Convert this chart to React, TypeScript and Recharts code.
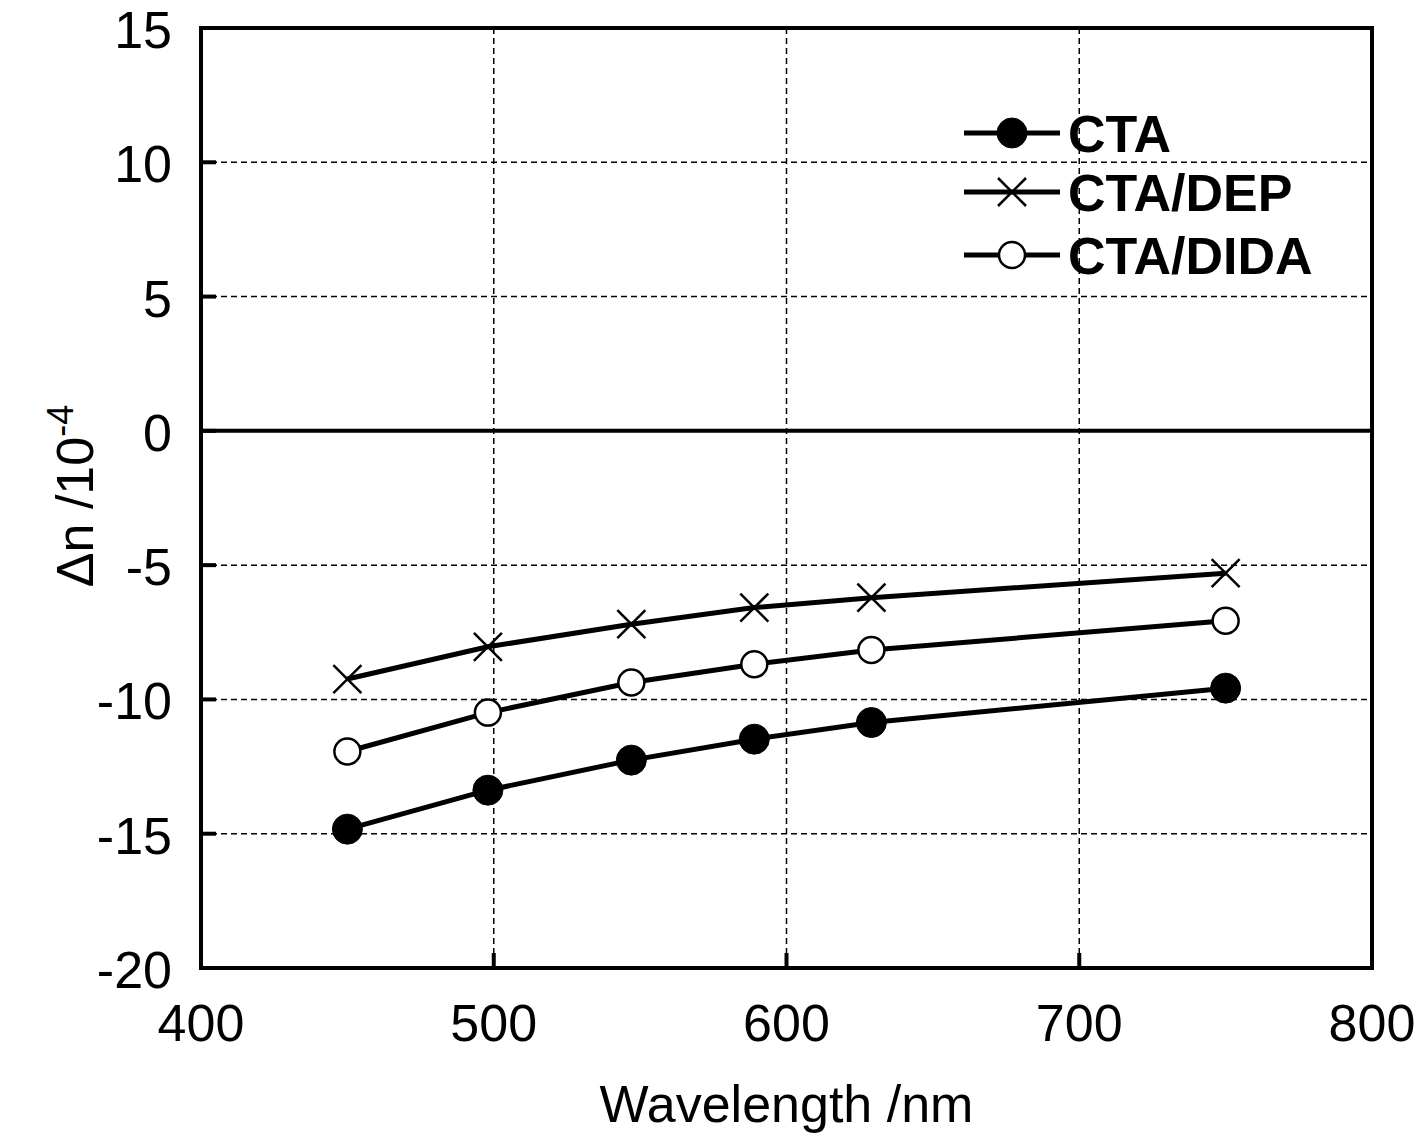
import {
  CartesianGrid,
  Line,
  LineChart,
  ReferenceArea,
  ReferenceLine,
  XAxis,
  YAxis,
} from 'recharts'

const WAVELENGTH = [450, 498, 547, 589, 629, 750]
const CTA = [-14.83, -13.38, -12.26, -11.48, -10.86, -9.58]
const CTA_DEP = [-9.24, -8.04, -7.2, -6.58, -6.21, -5.3]
const CTA_DIDA = [-11.94, -10.49, -9.37, -8.69, -8.16, -7.07]

const X_TICKS = [400, 500, 600, 700, 800]
const Y_TICKS = [-20, -15, -10, -5, 0, 5, 10, 15]

const SERIES = [
  { key: 'cta', name: 'CTA', marker: 'filled' },
  { key: 'dep', name: 'CTA/DEP', marker: 'cross' },
  { key: 'dida', name: 'CTA/DIDA', marker: 'open' },
]

const data = WAVELENGTH.map((w, i) => ({
  w,
  cta: CTA[i],
  dep: CTA_DEP[i],
  dida: CTA_DIDA[i],
}))

const FONT = '"Liberation Sans", Arial, sans-serif'
const FS = 52
const TICK_LEN = 15

function Marker({ kind, cx, cy }: { kind: string; cx: number; cy: number }) {
  if (kind === 'filled') {
    return <circle cx={cx} cy={cy} r={15} fill="#000" stroke="#000" strokeWidth={1} />
  }
  if (kind === 'open') {
    return <circle cx={cx} cy={cy} r={13} fill="#fff" stroke="#000" strokeWidth={2.5} />
  }
  const s = 14
  return (
    <g stroke="#000" strokeWidth={2.5}>
      <line x1={cx - s} y1={cy - s} x2={cx + s} y2={cy + s} />
      <line x1={cx - s} y1={cy + s} x2={cx + s} y2={cy - s} />
    </g>
  )
}

const dotFor = (kind: string) => (props: any) => {
  const { cx, cy, index } = props
  return <Marker key={`${kind}-${index}`} kind={kind} cx={cx} cy={cy} />
}

const LeftTick = (props: any) => {
  const { x, y, payload } = props
  return (
    <g>
      <line x1={x} y1={y} x2={x + TICK_LEN} y2={y} stroke="#000" strokeWidth={4} />
      <text x={x - 29} y={y + 20} textAnchor="end" fontSize={FS} fontFamily={FONT} fill="#000">
        {payload.value}
      </text>
    </g>
  )
}

const RightTick = (props: any) => {
  const { x, y } = props
  return <line x1={x} y1={y} x2={x - TICK_LEN} y2={y} stroke="#000" strokeWidth={4} />
}

const BottomTick = (props: any) => {
  const { x, y, payload } = props
  return (
    <g>
      <line x1={x} y1={y} x2={x} y2={y - TICK_LEN} stroke="#000" strokeWidth={4} />
      <text x={x} y={y + 73} textAnchor="middle" fontSize={FS} fontFamily={FONT} fill="#000">
        {payload.value}
      </text>
    </g>
  )
}

const TopTick = (props: any) => {
  const { x, y } = props
  return <line x1={x} y1={y} x2={x} y2={y + TICK_LEN} stroke="#000" strokeWidth={4} />
}

function LegendBox() {
  const rows = [33, 92, 155]
  return (
    <svg width={420} height={200} style={{ display: 'block' }}>
      {SERIES.map((s, i) => (
        <g key={s.key}>
          <line x1={4} y1={rows[i]} x2={100} y2={rows[i]} stroke="#000" strokeWidth={5} />
          <Marker kind={s.marker} cx={52} cy={rows[i]} />
          <text
            x={108}
            y={rows[i] + 19}
            fontSize={FS}
            fontWeight="bold"
            fontFamily={FONT}
            fill="#000"
          >
            {s.name}
          </text>
        </g>
      ))}
    </svg>
  )
}

const YLabel = () => (
  <text
    x={93}
    y={496}
    transform="rotate(-90, 93, 496)"
    textAnchor="middle"
    fontSize={FS}
    fontFamily={FONT}
    fill="#000"
  >
    Δn /10<tspan dy={-20} fontSize={36}>-4</tspan>
  </text>
)

export default function App() {
  return (
    <div style={{ position: 'absolute', left: 0, top: 0, width: 1422, height: 1136, background: '#fff' }}>
      <LineChart
        width={1422}
        height={1136}
        data={data}
        margin={{ top: 28, right: 50, bottom: 0, left: 0 }}
      >
        <CartesianGrid stroke="#000" strokeWidth={1.5} strokeDasharray="6 4" />
        <XAxis
          dataKey="w"
          type="number"
          domain={[400, 800]}
          ticks={X_TICKS}
          height={168}
          axisLine={false}
          tickLine={false}
          tickSize={0}
          tickMargin={0}
          tick={BottomTick}
          interval={0}
          label={{
            value: 'Wavelength /nm',
            position: 'insideBottom',
            offset: 14,
            fontSize: FS,
            fontFamily: FONT,
            fill: '#000',
          }}
        />
        <XAxis
          xAxisId="top"
          orientation="top"
          type="number"
          domain={[400, 800]}
          ticks={X_TICKS}
          height={0}
          axisLine={false}
          tickLine={false}
          tickSize={0}
          tickMargin={0}
          tick={TopTick}
          interval={0}
        />
        <YAxis
          type="number"
          domain={[-20, 15]}
          ticks={Y_TICKS}
          width={201}
          axisLine={false}
          tickLine={false}
          tickSize={0}
          tickMargin={0}
          tick={LeftTick}
          interval={0}
          label={<YLabel />}
        />
        <YAxis
          yAxisId="right"
          orientation="right"
          type="number"
          domain={[-20, 15]}
          ticks={Y_TICKS}
          width={0}
          axisLine={false}
          tickLine={false}
          tickSize={0}
          tickMargin={0}
          tick={RightTick}
          interval={0}
        />
        <ReferenceArea
          x1={400}
          x2={800}
          y1={-20}
          y2={15}
          fill="none"
          fillOpacity={0}
          stroke="#000"
          strokeWidth={4}
        />
        <ReferenceLine y={0} stroke="#000" strokeWidth={4} />
        {SERIES.map((s) => (
          <Line
            key={s.key}
            type="linear"
            dataKey={s.key}
            name={s.name}
            stroke="#000"
            strokeWidth={5}
            dot={dotFor(s.marker)}
            activeDot={false}
            isAnimationActive={false}
          />
        ))}
      </LineChart>
      <div style={{ position: 'absolute', left: 960, top: 100 }}>
        <LegendBox />
      </div>
    </div>
  )
}
